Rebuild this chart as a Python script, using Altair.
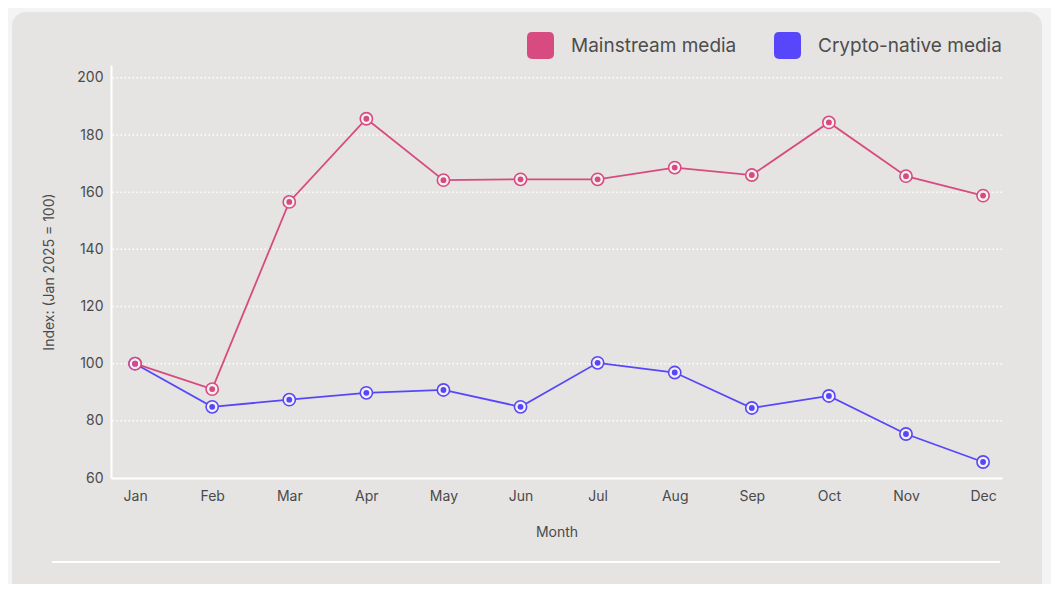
import altair as alt
import pandas as pd

months = ["Jan", "Feb", "Mar", "Apr", "May", "Jun", "Jul", "Aug", "Sep", "Oct", "Nov", "Dec"]
mainstream = [100, 91.1, 156.6, 185.7, 164.2, 164.5, 164.5, 168.6, 166.0, 184.4, 165.6, 158.8]
crypto = [100, 84.9, 87.4, 89.8, 90.8, 84.9, 100.3, 96.9, 84.5, 88.7, 75.4, 65.6]
series_names = ["Mainstream media", "Crypto-native media"]
series_colors = ["#d84b80", "#5847fa"]
y_ticks = [60, 80, 100, 120, 140, 160, 180, 200]
grid_ticks = [80, 100, 120, 140, 160, 180, 200]

rows = []
for m, v in zip(months, crypto):
    rows.append({"Month": m, "Index": v, "Series": series_names[1], "Group": series_names[1]})
for m, v in zip(months, mainstream):
    rows.append({"Month": m, "Index": v, "Series": series_names[0], "Group": series_names[0]})
df = pd.DataFrame(rows)
grid_df = pd.DataFrame({"Index": grid_ticks})

FONT = "Inter"
rounded_sq = ("M -0.62 -1 L 0.62 -1 Q 1 -1 1 -0.62 L 1 0.62 Q 1 1 0.62 1 L -0.62 1 "
              "Q -1 1 -1 0.62 L -1 -0.62 Q -1 -1 -0.62 -1 Z")

# stroke scale uses the reversed domain so its (hidden) legend is not merged with the colour legend
stroke = alt.Stroke(
    "Group:N",
    scale=alt.Scale(domain=series_names[::-1], range=series_colors[::-1]),
    legend=None,
)
color_leg = alt.Color(
    "Series:N",
    scale=alt.Scale(domain=series_names, range=series_colors),
    legend=alt.Legend(
        title=None, orient="none", direction="horizontal",
        legendX=416, legendY=-33, padding=0, zindex=1,
        symbolType=rounded_sq, symbolSize=729, symbolStrokeWidth=0,
        symbolOpacity=1,
        labelFont=FONT, labelFontSize=19, labelColor="#4d4d4d", labelLimit=400,
        labelOffset=17, columnPadding=37,
    ),
)

x = alt.X(
    "Month:N", sort=months,
    scale=alt.Scale(type="point", padding=0.279, align=0.56),
    axis=alt.Axis(title="Month", labelAngle=0, labelPadding=11, titlePadding=22,
                  grid=False, zindex=1),
)
yscale = alt.Scale(domain=[60, 204.5], nice=False, zero=False)
y = alt.Y(
    "Index:Q",
    scale=yscale,
    axis=alt.Axis(title="Index: (Jan 2025 = 100)", values=y_ticks, labelPadding=8,
                  titlePadding=20, grid=False, zindex=1),
)

base = alt.Chart(df)

panel = alt.Chart(pd.DataFrame({"a": [0]})).mark_rect(
    color="#e5e4e3", cornerRadius=14
).encode(
    x=alt.value(-99), x2=alt.value(931), y=alt.value(-53), y2=alt.value(580)
)
sep = alt.Chart(pd.DataFrame({"a": [0]})).mark_rule(
    color="white", strokeWidth=2
).encode(
    x=alt.value(-59), x2=alt.value(889), y=alt.value(497)
)
grid = alt.Chart(grid_df).mark_rule(
    color="white", strokeWidth=1.5, strokeDash=[1.5, 2.5]
).encode(y=alt.Y("Index:Q", scale=yscale))

lines = base.mark_line(strokeWidth=1.8).encode(x=x, y=y, stroke=stroke, detail="Series:N")
outer = base.mark_point(
    shape="circle", size=150, filled=False, strokeWidth=1.6, fill="#f3f0f2", fillOpacity=1, opacity=1
).encode(x=x, y=y, stroke=stroke)
inner = base.mark_circle(size=34, opacity=1).encode(x=x, y=y, color=color_leg)

chart = alt.layer(panel, sep, grid, lines, outer, inner).properties(
    width=891, height=413,
    autosize=alt.AutoSizeParams(type="none"),
    padding={"left": 103, "top": 57, "right": 49, "bottom": 106},
    background="#f4f4f4",
).configure_view(stroke=None).configure_axis(
    domainColor="white", domainWidth=2, tickSize=0, ticks=False,
    labelFont=FONT, labelFontSize=14, labelColor="#4a4a4a",
    titleFont=FONT, titleFontSize=14, titleColor="#4a4a4a", titleFontWeight="normal",
)

chart.save("out.html", embed_options={"renderer": "svg", "actions": False})
